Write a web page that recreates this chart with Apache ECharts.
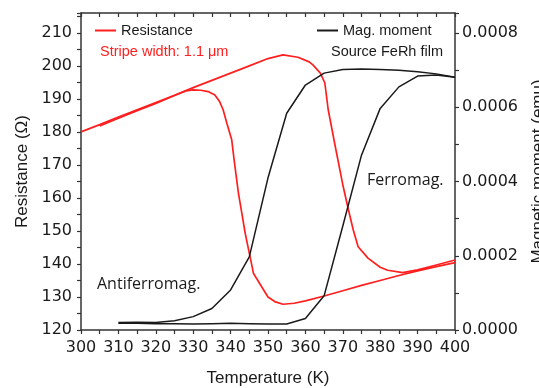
<!DOCTYPE html>
<html><head><meta charset="utf-8">
<script src="https://cdn.jsdelivr.net/npm/echarts@6/dist/echarts.min.js"></script>
<style>html,body{margin:0;padding:0;background:#fff}#c{width:539px;height:388px}</style>
</head><body><div id="c"></div>
<script>
// Resistance, heating branch (K, Ohm)
const resHeatT = [300,305,310,315,320,325,330,335,340,345,350,354,358,361,362,364,365.2,366.1,368,370,371.5,372.8,374.1,376.8,380,382,386,390,395,400];
const resHeatR = [180.0,182.2,184.5,186.7,188.9,191.1,193.4,195.6,197.8,200.0,202.2,203.3,202.6,201.2,200.3,197.8,194.8,186.7,175.5,164.0,156.4,150.3,145.2,141.7,139.0,138.1,137.4,138.2,139.7,141.2];
// Resistance, cooling branch
const resCoolT = [400,395,390,385,380,375,370,365,360,357,354,352,350,348.3,347,346.1,345.2,344.5,343.9,343,342.1,341,340.3,339,338,337,335.8,334,332,330,328,325,320,315,310,305];
const resCoolR = [140.4,139.2,137.9,136.5,135.0,133.5,131.9,130.3,128.8,128.1,127.8,128.5,130.0,133.1,135.5,137.2,142.2,146.0,149.3,155.4,161.4,171.0,177.6,182.6,186.7,189.3,191.2,192.2,192.6,192.7,192.4,191.0,188.6,186.4,184.1,181.8];
// Magnetic moment (emu)
const magT = [310,315,320,325,330,335,340,345,350,355,360,365,370,375,380,385,390,395,400];
const magHeat = [1.8e-5,1.8e-5,1.7e-5,1.7e-5,1.6e-5,1.7e-5,1.8e-5,1.7e-5,1.6e-5,1.6e-5,3.1e-5,9.2e-5,2.8e-4,4.71e-4,5.97e-4,6.55e-4,6.84e-4,6.87e-4,6.81e-4];
const magCool = [2.0e-5,2.1e-5,2.0e-5,2.5e-5,3.6e-5,5.8e-5,1.08e-4,1.97e-4,4.1e-4,5.84e-4,6.6e-4,6.92e-4,7.02e-4,7.03e-4,7.02e-4,7.0e-4,6.96e-4,6.9e-4,6.81e-4];

const RED = '#ff1f1f', BLK = '#1a1a1a', AX = '#333';
const zip = (a, b) => a.map((v, i) => [v, b[i]]);
const tickFont = {fontFamily: 'DejaVu Sans', fontSize: 16, color: BLK};
const nameFont = {fontFamily: 'Liberation Sans', fontSize: 17, color: BLK};
const axLine = {show: true, lineStyle: {color: AX, width: 1.5}};
const tickSt = {show: true, length: 4, lineStyle: {color: AX, width: 1.2}};
const minorSt = {show: true, splitNumber: 2, length: 4, lineStyle: {color: AX, width: 1.2}};

const chart = echarts.init(document.getElementById('c'), null, {renderer: 'canvas'});
chart.setOption({
  animation: false,
  backgroundColor: '#fff',
  grid: {left: 81, right: 84, top: 13, bottom: 58, containLabel: false, outerBoundsMode: 'none'},
  legend: [
    {data: ['Resistance'], left: 95, top: 23, icon: 'rect', itemWidth: 21, itemHeight: 2, padding: 0,
     textStyle: {fontFamily: 'Liberation Sans', fontSize: 14.5, color: BLK}},
    {data: ['Mag. moment'], left: 317, top: 23, icon: 'rect', itemWidth: 21, itemHeight: 2, padding: 0,
     textStyle: {fontFamily: 'Liberation Sans', fontSize: 14.5, color: BLK}}
  ],
  xAxis: [
    {type: 'value', min: 300, max: 400, interval: 10, position: 'bottom',
     name: 'Temperature (K)', nameLocation: 'middle', nameGap: 40, nameTextStyle: nameFont,
     axisLine: axLine, axisTick: tickSt, minorTick: minorSt, splitLine: {show: false},
     axisLabel: Object.assign({margin: 10}, tickFont)},
    {type: 'value', min: 300, max: 400, interval: 10, position: 'top',
     axisLine: axLine, axisTick: Object.assign({inside: true}, tickSt), minorTick: minorSt,
     splitLine: {show: false}, axisLabel: {show: false}}
  ],
  yAxis: [
    {type: 'value', min: 120, max: 216, interval: 10, position: 'left',
     name: 'Resistance (Ω)', nameLocation: 'middle', nameGap: 46, nameRotate: 90, nameTextStyle: nameFont,
     axisLine: axLine, axisTick: tickSt, minorTick: minorSt, splitLine: {show: false},
     axisLabel: Object.assign({margin: 9, showMaxLabel: false}, tickFont)},
    {type: 'value', min: 0, max: 0.000854, interval: 0.0002, position: 'right',
     name: 'Magnetic moment (emu)', nameLocation: 'middle', nameGap: 75, nameRotate: 90, nameTextStyle: nameFont,
     axisLine: axLine, axisTick: tickSt, minorTick: minorSt, splitLine: {show: false},
     axisLabel: Object.assign({margin: 7, showMaxLabel: false, formatter: v => v.toFixed(4)}, tickFont)}
  ],
  series: [
    {name: 'Resistance', type: 'line', xAxisIndex: 0, yAxisIndex: 0, data: zip(resHeatT, resHeatR),
     showSymbol: false, symbol: 'none', lineStyle: {color: RED, width: 1.7}, itemStyle: {color: RED}},
    {name: 'Resistance', type: 'line', xAxisIndex: 0, yAxisIndex: 0, data: zip(resCoolT, resCoolR),
     showSymbol: false, symbol: 'none', lineStyle: {color: RED, width: 1.7}, itemStyle: {color: RED}},
    {name: 'Mag. moment', type: 'line', xAxisIndex: 0, yAxisIndex: 1, data: zip(magT, magHeat),
     showSymbol: false, symbol: 'none', lineStyle: {color: BLK, width: 1.5}, itemStyle: {color: BLK}},
    {name: 'Mag. moment', type: 'line', xAxisIndex: 0, yAxisIndex: 1, data: zip(magT, magCool),
     showSymbol: false, symbol: 'none', lineStyle: {color: BLK, width: 1.5}, itemStyle: {color: BLK}}
  ],
  graphic: [
    {type: 'text', left: 100, top: 44, style: {text: 'Stripe width: 1.1 μm', fill: RED,
      font: '14.5px "Liberation Sans"'}},
    {type: 'text', right: 96, top: 44, style: {text: 'Source FeRh film', fill: BLK,
      font: '14.5px "Liberation Sans"'}},
    {type: 'text', left: 97, top: 276, style: {text: 'Antiferromag.', fill: BLK,
      font: '16px "Open Sans"'}},
    {type: 'text', left: 367, top: 172, style: {text: 'Ferromag.', fill: BLK,
      font: '16px "Open Sans"'}}
  ]
});
</script></body></html>
